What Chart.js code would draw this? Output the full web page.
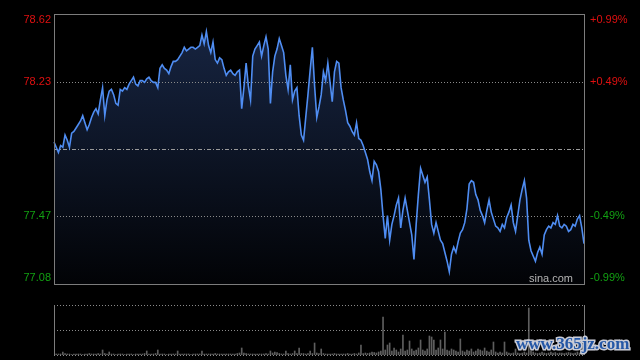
<!DOCTYPE html>
<html><head><meta charset="utf-8">
<script src="https://cdn.jsdelivr.net/npm/chart.js@4.4.0/dist/chart.umd.min.js"></script>
<style>
html,body{margin:0;padding:0;background:#000;width:640px;height:360px;overflow:hidden;}
#main{position:absolute;left:0;top:0;}
#vol{position:absolute;left:0;top:290px;}
#wm{position:absolute;left:516px;top:334px;font:bold 17px "Liberation Serif";color:#2457a6;
  -webkit-text-stroke:3px #c9ccd6;paint-order:stroke fill;white-space:nowrap;}
</style></head>
<body>
<canvas id="main" width="640" height="290"></canvas>
<canvas id="vol" width="640" height="70"></canvas>
<div id="wm">www.365jz.com</div>
<script>
// ---- data ----
const prevClose = 77.85;
const priceTicks = [78.62, 78.23, 77.47, 77.08];
const pctTicks = ["+0.99%", "+0.49%", "-0.49%", "-0.99%"];
const prices = [
77.89,77.86,77.83,77.87,77.86,77.93,77.90,77.86,77.94,77.95,
77.97,77.99,78.01,78.04,78.00,77.96,77.99,78.03,78.06,78.08,
78.05,78.13,78.20,78.04,78.13,78.18,78.19,78.16,78.11,78.10,
78.19,78.18,78.20,78.19,78.22,78.24,78.26,78.22,78.21,78.24,
78.24,78.23,78.25,78.26,78.24,78.23,78.23,78.20,78.31,78.33,
78.31,78.30,78.28,78.32,78.35,78.35,78.36,78.38,78.40,78.43,
78.41,78.42,78.43,78.43,78.42,78.43,78.44,78.50,78.45,78.52,
78.44,78.40,78.46,78.36,78.34,78.37,78.36,78.31,78.27,78.29,
78.30,78.28,78.27,78.29,78.30,78.08,78.20,78.34,78.21,78.13,
78.38,78.42,78.44,78.46,78.38,78.44,78.49,78.42,78.11,78.29,
78.38,78.42,78.48,78.44,78.40,78.27,78.19,78.33,78.13,78.18,
78.20,78.04,77.93,77.90,78.03,78.16,78.30,78.43,78.21,78.03,
78.09,78.16,78.29,78.24,78.34,78.23,78.12,78.29,78.35,78.34,
78.20,78.13,78.07,78.00,77.98,77.95,77.93,78.00,77.91,77.90,
77.87,77.83,77.79,77.72,77.67,77.78,77.76,77.72,77.62,77.47,
77.34,77.47,77.33,77.42,77.47,77.53,77.57,77.40,77.50,77.57,
77.50,77.43,77.36,77.22,77.42,77.59,77.74,77.70,77.66,77.69,
77.56,77.42,77.37,77.43,77.38,77.33,77.31,77.26,77.21,77.15,
77.25,77.29,77.26,77.32,77.37,77.39,77.43,77.51,77.65,77.67,
77.66,77.59,77.56,77.50,77.47,77.43,77.50,77.56,77.49,77.45,
77.41,77.40,77.38,77.42,77.40,77.46,77.49,77.53,77.43,77.38,
77.47,77.56,77.62,77.67,77.57,77.33,77.27,77.24,77.21,77.26,
77.29,77.25,77.36,77.39,77.41,77.40,77.43,77.42,77.47,77.41,
77.40,77.42,77.41,77.38,77.39,77.42,77.41,77.45,77.47,77.40,
77.31,77.35
];
const volumes = [
3,2,2,2,6,3,2,2,1,2, 2,2,2,1,2,2,3,2,2,2,
3,2,10,3,2,6,2,2,1,2, 2,2,1,2,2,2,1,2,2,2,
2,3,8,2,2,2,3,10,2,2, 2,1,2,2,2,2,8,2,2,2,
2,2,1,2,2,2,2,8,2,2, 2,2,2,3,2,2,2,2,2,2,
2,2,2,3,4,14,4,3,2,2, 2,2,2,2,2,2,3,2,8,4,
6,5,3,2,2,8,3,2,3,8, 3,14,3,3,2,3,8,3,24,4,
3,12,3,2,2,2,2,3,2,2, 2,2,2,3,2,2,3,2,4,20,
3,4,3,4,6,5,4,6,8,76, 10,20,24,8,14,10,6,12,40,8,
10,28,12,8,10,14,30,10,8,12, 38,36,30,10,14,30,12,46,10,8,
12,10,8,6,32,8,6,10,8,12, 6,8,12,10,8,14,8,6,10,26,
6,4,6,4,26,6,4,3,4,12, 4,3,4,6,4,94,8,6,4,3,
4,6,4,3,4,6,4,5,3,4, 4,3,4,5,4,3,4,6,4,3,
4,3
];
// category labels: trading minutes 09:30-11:30, 13:00-15:00
const times = [];
(function(){
  function add(h0,m0,n){for(let k=0;k<n;k++){const t=h0*60+m0+k;times.push(String(Math.floor(t/60)).padStart(2,'0')+':'+String(t%60).padStart(2,'0'));}}
  add(9,30,121); add(13,1,120);
})();
const volMax = 100;

const FONT = '11px "Liberation Sans", Arial, sans-serif';
const RED = '#e01010', GREEN = '#12a012', BORDER = '#7c7c7c';

const mainDeco = {
  id: 'mainDeco',
  beforeDatasetsDraw(chart) {
    const {ctx, chartArea: a, scales: {y}} = chart;
    ctx.save();
    ctx.lineWidth = 1;
    ctx.strokeStyle = '#8a8a8a';
    ctx.setLineDash([1, 2]);
    [78.23, 77.47].forEach(v => {
      const py = Math.round(y.getPixelForValue(v)) + 0.5;
      ctx.beginPath(); ctx.moveTo(a.left, py); ctx.lineTo(a.right, py); ctx.stroke();
    });
    ctx.strokeStyle = '#9a9a9a';
    ctx.setLineDash([4, 2, 1, 2]);
    const pm = Math.round(y.getPixelForValue(prevClose)) + 0.5;
    ctx.beginPath(); ctx.moveTo(a.left, pm); ctx.lineTo(a.right, pm); ctx.stroke();
    ctx.restore();
  },
  afterDraw(chart) {
    const {ctx, chartArea: a, scales: {y}} = chart;
    ctx.save();
    ctx.strokeStyle = BORDER; ctx.lineWidth = 1; ctx.setLineDash([]);
    ctx.strokeRect(Math.round(a.left) + 0.5, Math.round(a.top) + 0.5, Math.round(a.right - a.left), Math.round(a.bottom - a.top));
    ctx.font = FONT; ctx.textBaseline = 'middle';
    priceTicks.forEach((v, i) => {
      let py = y.getPixelForValue(v);
      py = Math.min(Math.max(py, a.top + 6), a.bottom - 6);
      ctx.fillStyle = v > prevClose ? RED : GREEN;
      ctx.textAlign = 'right';
      ctx.fillText(v.toFixed(2), a.left - 3, py);
      ctx.textAlign = 'left';
      ctx.fillText(pctTicks[i], a.right + 6, py);
    });
    ctx.fillStyle = '#b4b4b4';
    ctx.textAlign = 'right'; ctx.textBaseline = 'alphabetic';
    ctx.fillText('sina.com', a.right - 11, a.bottom - 2);
    ctx.restore();
  }
};

new Chart(document.getElementById('main'), {
  type: 'line',
  data: {
    labels: times,
    datasets: [{
      data: prices,
      borderColor: '#4f8df2',
      borderWidth: 1.6,
      pointRadius: 0,
      tension: 0,
      fill: 'start',
      backgroundColor: (c) => {
        const ch = c.chart, a = ch.chartArea;
        if (!a) return 'rgba(20,34,60,1)';
        const g = ch.ctx.createLinearGradient(0, a.top, 0, a.bottom);
        g.addColorStop(0, 'rgb(24,38,68)');
        g.addColorStop(0.5, 'rgb(13,21,38)');
        g.addColorStop(1, 'rgb(2,3,6)');
        return g;
      }
    }]
  },
  options: {
    responsive: false, animation: false, devicePixelRatio: 1,
    layout: {padding: {left: 54, right: 56, top: 14, bottom: 6}},
    plugins: {legend: {display: false}, tooltip: {enabled: false}, filler: {drawTime: 'beforeDatasetsDraw'}},
    scales: {
      x: {display: false},
      y: {display: false, min: 77.08, max: 78.62}
    }
  },
  plugins: [mainDeco]
});

const volDeco = {
  id: 'volDeco',
  afterDraw(chart) {
    const {ctx, chartArea: a, scales: {y}} = chart;
    ctx.save();
    ctx.lineWidth = 1;
    ctx.strokeStyle = '#8a8a8a';
    ctx.setLineDash([1, 2]);
    [volMax, volMax / 2, 0].forEach(v => {
      const py = Math.round(y.getPixelForValue(v)) + 0.5;
      ctx.beginPath(); ctx.moveTo(a.left, py); ctx.lineTo(a.right, py); ctx.stroke();
    });
    ctx.setLineDash([]);
    ctx.strokeStyle = BORDER;
    [a.left, a.right].forEach(px => {
      const x = Math.round(px) + 0.5;
      ctx.beginPath(); ctx.moveTo(x, a.top); ctx.lineTo(x, a.bottom); ctx.stroke();
    });
    ctx.restore();
  }
};

new Chart(document.getElementById('vol'), {
  type: 'bar',
  data: {labels: times, datasets: [{data: volumes, backgroundColor: '#5e5e5e', barThickness: 1}]},
  options: {
    responsive: false, animation: false, devicePixelRatio: 1,
    layout: {padding: {left: 54, right: 56, top: 15, bottom: 5}},
    plugins: {legend: {display: false}, tooltip: {enabled: false}},
    scales: {
      x: {display: false, offset: false},
      y: {display: false, min: 0, max: volMax}
    }
  },
  plugins: [volDeco]
});
</script>
</body></html>
